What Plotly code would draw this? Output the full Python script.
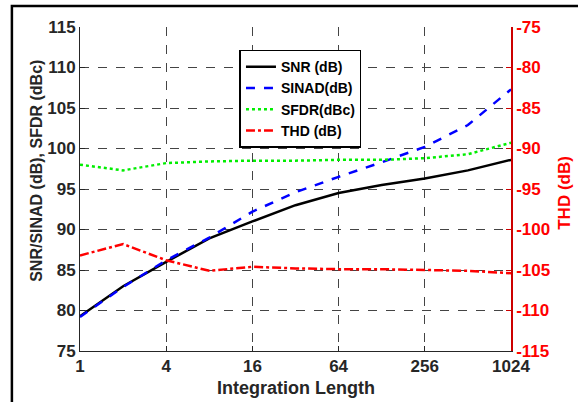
import plotly.graph_objects as go

# integration length (log2 axis)
length = [1, 2, 4, 8, 16, 32, 64, 128, 256, 512, 1024]
snr = [79.3, 83.0, 86.0, 88.9, 91.0, 93.0, 94.5, 95.5, 96.3, 97.3, 98.6]
sinad = [79.2, 82.9, 86.2, 89.0, 92.2, 94.6, 96.5, 98.3, 100.2, 102.9, 107.3]
sfdr = [98.0, 97.3, 98.2, 98.4, 98.5, 98.5, 98.6, 98.6, 98.8, 99.3, 100.7]
thd = [-103.2, -101.8, -103.8, -105.1, -104.6, -104.8, -104.9, -104.9, -105.0, -105.1, -105.4]

x_ticks = [1, 4, 16, 64, 256, 1024]
left_ticks = [75, 80, 85, 90, 95, 100, 105, 110, 115]
right_ticks = [-115, -110, -105, -100, -95, -90, -85, -80, -75]

font_b = "Liberation Sans"
dark = "#262626"
grid = dict(showgrid=True, gridcolor="#444444", griddash="dash", gridwidth=1)

fig = go.Figure()
fig.add_trace(go.Scatter(x=length, y=snr, name="SNR (dB)", mode="lines",
                         line=dict(color="black", width=2.5)))
fig.add_trace(go.Scatter(x=length, y=sinad, name="SINAD(dB)", mode="lines",
                         line=dict(color="#0000ff", width=2.5, dash="dash")))
fig.add_trace(go.Scatter(x=length, y=sfdr, name="SFDR(dBc)", mode="lines",
                         line=dict(color="#00ee00", width=2.5, dash="dot")))
fig.add_trace(go.Scatter(x=length, y=thd, name="THD (dB)", mode="lines", yaxis="y2",
                         line=dict(color="#ff0000", width=2.5, dash="dashdot")))

fig.update_layout(
    width=578, height=402,
    margin=dict(l=80, r=67, t=27, b=51),
    plot_bgcolor="white", paper_bgcolor="white",
    font=dict(family=font_b, size=15, color=dark, weight="bold"),
    xaxis=dict(type="log", range=[0, 3.0103], tickvals=x_ticks,
               ticktext=[str(v) for v in x_ticks], automargin=False,
               tickfont=dict(size=17, family=font_b, color=dark, weight="bold"),
               showline=True, linecolor=dark, linewidth=1,
               ticks="inside", ticklen=5, tickcolor=dark, zeroline=False, **grid),
    yaxis=dict(range=[75, 115], tickvals=left_ticks, automargin=False,
               tickfont=dict(size=17, color=dark, weight="bold"),
               showline=True, linecolor=dark, linewidth=1,
               ticks="inside", ticklen=5, tickcolor=dark, zeroline=False, **grid),
    yaxis2=dict(range=[-115, -75], tickvals=right_ticks, overlaying="y", side="right",
                ticktext=["%d" % v for v in right_ticks], automargin=False,
                tickfont=dict(size=17, color="#ff0000", weight="bold"),
                showline=True, linecolor="#cc0000", linewidth=1.5,
                ticks="inside", ticklen=5, tickcolor="#cc0000",
                showgrid=False, zeroline=False),
    legend=dict(x=0.37, y=0.93, xanchor="left", yanchor="top",
                bgcolor="white", bordercolor="black", borderwidth=1.5,
                font=dict(size=14, color="black", family=font_b, weight="bold"),
                tracegroupgap=0, itemwidth=30),
    showlegend=True,
)

# axis titles placed as in the original (MATLAB-like positions)
fig.add_annotation(text="Integration Length", xref="paper", yref="paper",
                   x=0.5, y=-0.114, xanchor="center", yanchor="middle", showarrow=False,
                   font=dict(size=18, color=dark, weight="bold"))
fig.add_annotation(text="SNR/SINAD (dB), SFDR (dBc)", xref="paper", yref="paper",
                   x=-0.0998, y=0.556, xanchor="center", yanchor="middle", showarrow=False,
                   textangle=-90, font=dict(size=16, color=dark, weight="bold"))
fig.add_annotation(text="THD (dB)", xref="paper", yref="paper",
                   x=1.125, y=0.488, xanchor="center", yanchor="middle", showarrow=False,
                   textangle=-90, font=dict(size=17, color="#ff0000", weight="bold"))

# outer figure frame (left/top edges visible)
fig.add_shape(type="rect", xref="paper", yref="paper",
              x0=-0.158, x1=1.3, y0=-0.3, y1=1.065,
              line=dict(color="black", width=2.5), layer="below")

fig.write_html("out.html", config={"displayModeBar": False},
               post_script="document.body.style.margin='0';")
